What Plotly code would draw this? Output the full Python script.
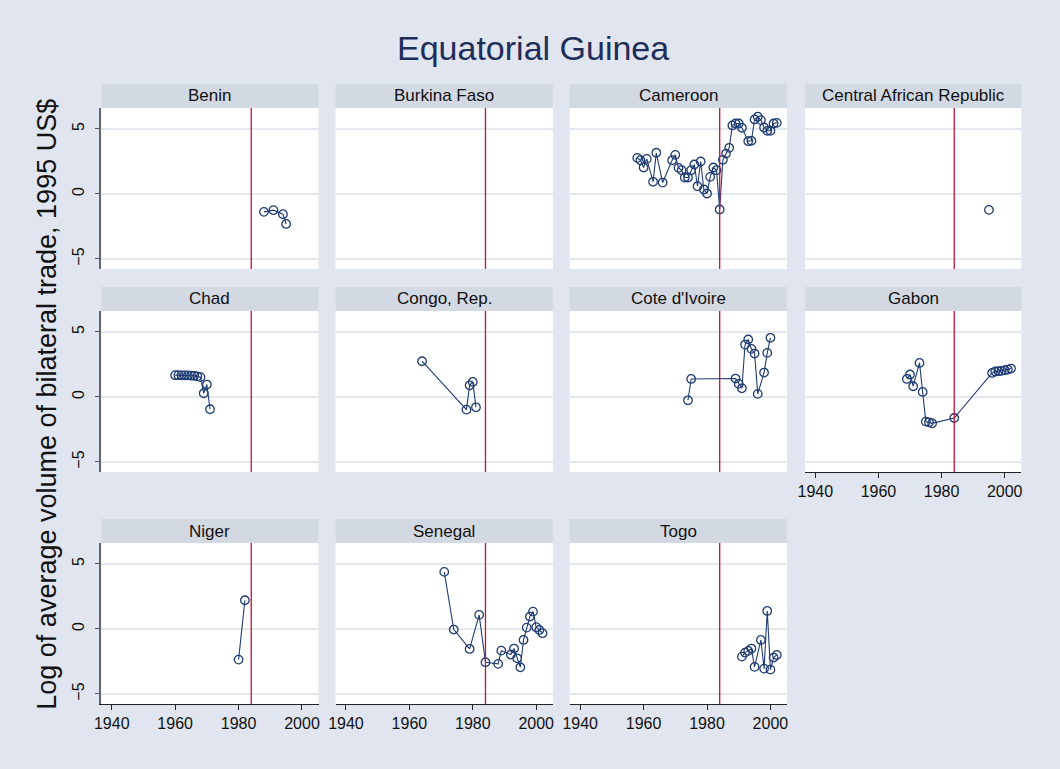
import plotly.graph_objects as go

# ---------------- data ----------------
countries = ["Benin", "Burkina Faso", "Cameroon", "Central African Republic",
             "Chad", "Congo, Rep.", "Cote d'Ivoire", "Gabon",
             "Niger", "Senegal", "Togo"]

benin_years = [1988, 1991, 1994, 1995]
benin_vals = [-1.38, -1.25, -1.56, -2.31]

burkina_years = []
burkina_vals = []

cameroon_years = [1958, 1959, 1960, 1961, 1963, 1964, 1966, 1969, 1970, 1971,
                  1972, 1973, 1974, 1975, 1976, 1977, 1978, 1979, 1980, 1981,
                  1982, 1983, 1984, 1985, 1986, 1987, 1988, 1989, 1990, 1991,
                  1993, 1994, 1995, 1996, 1997, 1998, 1999, 2000, 2001, 2002]
cameroon_vals = [2.77, 2.59, 2.03, 2.69, 0.93, 3.16, 0.87, 2.59, 3.00, 2.00,
                 1.82, 1.26, 1.26, 1.82, 2.26, 0.59, 2.49, 0.34, 0.03, 1.31,
                 2.03, 1.82, -1.20, 2.62, 3.10, 3.54, 5.26, 5.41, 5.41, 5.08,
                 4.05, 4.08, 5.72, 5.93, 5.67, 5.10, 4.85, 4.85, 5.41, 5.46]

car_years = [1995]
car_vals = [-1.23]

chad_years = [1960, 1961, 1962, 1963, 1964, 1965, 1966, 1967, 1968, 1969, 1970, 1971]
chad_vals = [1.67, 1.67, 1.66, 1.66, 1.65, 1.64, 1.62, 1.58, 1.52, 0.28, 0.95, -0.95]

congo_years = [1964, 1978, 1979, 1980, 1981]
congo_vals = [2.74, -0.98, 0.89, 1.15, -0.80]

civ_years = [1974, 1975, 1989, 1990, 1991, 1992, 1993, 1994, 1995, 1996, 1998, 1999, 2000]
civ_vals = [-0.26, 1.38, 1.41, 1.00, 0.66, 4.02, 4.41, 3.69, 3.33, 0.23, 1.87, 3.38, 4.54]

gabon_years = [1969, 1970, 1971, 1973, 1974, 1975, 1976, 1977, 1984,
               1996, 1997, 1998, 1999, 2000, 2001, 2002]
gabon_vals = [1.38, 1.72, 0.82, 2.61, 0.38, -1.90, -1.95, -2.03, -1.62,
              1.84, 1.95, 1.97, 2.00, 2.05, 2.10, 2.18]

niger_years = [1980, 1982]
niger_vals = [-2.36, 2.20]

senegal_years = [1971, 1974, 1979, 1982, 1984, 1988, 1989, 1992, 1993, 1994,
                 1995, 1996, 1997, 1998, 1999, 2000, 2001, 2002]
senegal_vals = [4.38, -0.05, -1.54, 1.08, -2.56, -2.69, -1.67, -1.97, -1.51, -2.26,
                -2.95, -0.85, 0.10, 0.95, 1.33, 0.13, -0.08, -0.33]

togo_years = [1991, 1992, 1993, 1994, 1995, 1997, 1998, 1999, 2000, 2001, 2002]
togo_vals = [-2.13, -1.82, -1.69, -1.51, -2.92, -0.85, -3.05, 1.38, -3.13, -2.20, -2.00]

event_year = 1984
x_ticks = [1940, 1960, 1980, 2000]
y_ticks = [-5, 0, 5]

series = [(benin_years, benin_vals), (burkina_years, burkina_vals),
          (cameroon_years, cameroon_vals), (car_years, car_vals),
          (chad_years, chad_vals), (congo_years, congo_vals),
          (civ_years, civ_vals), (gabon_years, gabon_vals),
          (niger_years, niger_vals), (senegal_years, senegal_vals),
          (togo_years, togo_vals)]

# ---------------- layout geometry (pixels) ----------------
W, H = 1060, 769
col_px = [(95, 314), (331, 550), (567, 786), (804, 1022)]
row_plot_px = [(108, 269), (311, 472), (543, 704)]
row_strip_px = [(84, 108), (287, 311), (519, 543)]

BG = "#E0E5EF"
STRIP = "#D3D9E3"
GRID = "#E3E7EE"
NAVY = "#1F3C73"
RED = "#C8103C"
FONT = "Liberation Sans, Arial, sans-serif"

def px_x(x):
    return x / W

def px_y(y):
    return 1 - y / H

fig = go.Figure()
layout = dict(
    width=W, height=H,
    margin=dict(l=0, r=0, t=0, b=0),
    paper_bgcolor=BG, plot_bgcolor="white",
    showlegend=False,
    font=dict(family=FONT, color="#111111"),
)
shapes = []
annotations = []

# which panels show the x axis
xaxis_panels = {7, 8, 9, 10}

for i, (name, (yrs, vals)) in enumerate(zip(countries, series)):
    r, c = divmod(i, 4)
    k = i + 1
    xa = "xaxis" if k == 1 else f"xaxis{k}"
    ya = "yaxis" if k == 1 else f"yaxis{k}"
    xr = "x" if k == 1 else f"x{k}"
    yr = "y" if k == 1 else f"y{k}"
    x0, x1 = col_px[c]
    yt, yb = row_plot_px[r]

    show_x = i in xaxis_panels
    layout[xa] = dict(
        domain=[px_x(x0), px_x(x1)], anchor=yr,
        range=[1936.7, 2005.25], showgrid=False, zeroline=False,
        tickvals=x_ticks, showticklabels=show_x,
        ticks="outside" if show_x else "", ticklen=5, tickwidth=1,
        tickcolor="#222222",
        showline=show_x, linecolor="#222222", linewidth=1.2,
        tickfont=dict(size=16, color="#111111", family=FONT),
    )
    show_y = (c == 0)
    layout[ya] = dict(
        domain=[px_y(yb), px_y(yt)], anchor=xr,
        range=[-5.77, 6.6], tickvals=y_ticks,
        showgrid=True, gridcolor=GRID, gridwidth=1.5, zeroline=False,
        showticklabels=show_y, tickangle=-90,
        ticks="outside" if show_y else "", ticklen=5, tickwidth=1,
        tickcolor="#555555",
        showline=show_y, linecolor="#666666", linewidth=1.5,
        tickfont=dict(size=16, color="#111111", family=FONT),
        ticklabelstandoff=4,
    )

    # vertical reference line
    shapes.append(dict(type="line", xref=xr, yref=f"{yr} domain",
                       x0=event_year, x1=event_year, y0=0, y1=1,
                       line=dict(color=RED, width=1.3), layer="above"))

    # strip
    st, sb = row_strip_px[r]
    shapes.append(dict(type="rect", xref="paper", yref="paper",
                       x0=px_x(x0), x1=px_x(x1), y0=px_y(sb), y1=px_y(st),
                       fillcolor=STRIP, line=dict(width=0), layer="below"))
    annotations.append(dict(text=name, xref="paper", yref="paper",
                            x=px_x((x0 + x1) / 2), y=px_y((st + sb) / 2),
                            xanchor="center", yanchor="middle", showarrow=False,
                            font=dict(size=17, color="#111111", family=FONT)))

    fig.add_trace(go.Scatter(
        x=yrs, y=vals, xaxis=xr, yaxis=yr, mode="lines+markers",
        line=dict(color=NAVY, width=1.1),
        marker=dict(symbol="circle-open", size=8.5, color=NAVY,
                    line=dict(width=1.3, color=NAVY)),
        cliponaxis=False, hoverinfo="x+y",
    ))

# title
annotations.append(dict(text="Equatorial Guinea", xref="paper", yref="paper",
                        x=0.5, y=px_y(48), xanchor="center", yanchor="middle",
                        showarrow=False,
                        font=dict(size=34, color="#1E2D5A", family=FONT)))
# y axis title
annotations.append(dict(text="Log of average volume of bilateral trade, 1995 US$",
                        xref="paper", yref="paper", x=px_x(40), y=px_y(404),
                        xanchor="center", yanchor="middle", textangle=-90,
                        showarrow=False,
                        font=dict(size=27, color="#111111", family=FONT)))

layout["shapes"] = shapes
layout["annotations"] = annotations
fig.update_layout(**layout)

fig.write_html("out.html",
               config={"displayModeBar": False},
               post_script="document.body.style.margin='0';document.body.style.padding='0';")
